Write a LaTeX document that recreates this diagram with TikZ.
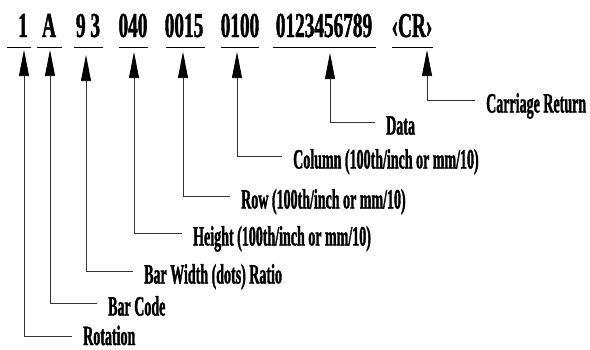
\documentclass[tikz,border=0pt]{standalone}
\usepackage{fontspec}
\usetikzlibrary{arrows.meta}
\newfontfamily\topfont{Liberation Serif Bold}[FakeStretch=0.55,FakeBold=1.2]
\newfontfamily\labfont{Liberation Serif Bold}[FakeStretch=0.5,FakeBold=1.2]
\begin{document}
\begin{tikzpicture}[x=1pt,y=-1pt,
  toptext/.style={inner sep=0pt, anchor=base, font=\topfont\fontsize{35}{40}\selectfont},
  labtext/.style={anchor=west, inner ysep=0pt, inner xsep=11pt, text height=25pt, text depth=0pt,
     font=\labfont\fontsize{28}{32}\selectfont},
  ul/.style={line width=0.9pt},
  conn/.style={line width=0.7pt, draw=black!80, -{Triangle[length=26pt,width=10pt,fill=black,color=black]}}]
\useasboundingbox (0,0) rectangle (590,349);
% top row
\node[toptext] (t1) at (23,37) {1};
\node[toptext] (t2) at (49,37) {A};
\node[toptext] (t3) at (88,37) {9 3};
\node[toptext] (t4) at (133,37) {040};
\node[toptext] (t5) at (184,37) {0015};
\node[toptext] (t6) at (240,37) {0100};
\node[toptext] (t7) at (324,37) {0123456789};
\node[toptext] (t8) at (412,37) {‹CR›};
% underlines
\draw[ul] (7,47) -- (31,47);
\draw[ul] (37,47) -- (62,47);
\draw[ul] (74,47) -- (103,47);
\draw[ul] (119,47) -- (148,47);
\draw[ul] (166,47) -- (205,47);
\draw[ul] (221,47) -- (259,47);
\draw[ul] (273,47) -- (376,47);
\draw[ul] (392,47) -- (433,47);
% arrow tips
\coordinate (p1) at (24,50);
\coordinate (p2) at (50,50);
\coordinate (p3) at (86,55);
\coordinate (p4) at (134,52);
\coordinate (p5) at (183,52);
\coordinate (p6) at (237,52);
\coordinate (p7) at (330,53);
\coordinate (p8) at (427,50);
% labels
\node[labtext, text height=18pt] (l1) at (72,336) {Rotation};
\node[labtext] (l2) at (97,303) {Bar Code};
\node[labtext] (l3) at (133,271) {Bar Width (dots) Ratio};
\node[labtext] (l4) at (182,233) {Height (100th/inch or mm/10)};
\node[labtext] (l5) at (230,196) {Row (100th/inch or mm/10)};
\node[labtext] (l6) at (282,156) {Column (100th/inch or mm/10)};
\node[labtext] (l7) at (375,122) {Data};
\node[labtext] (l8) at (475,100) {Carriage Return};
% connectors
\foreach \i in {1,...,8} {\draw[conn] (l\i.west) -| (p\i);}
\end{tikzpicture}
\end{document}
